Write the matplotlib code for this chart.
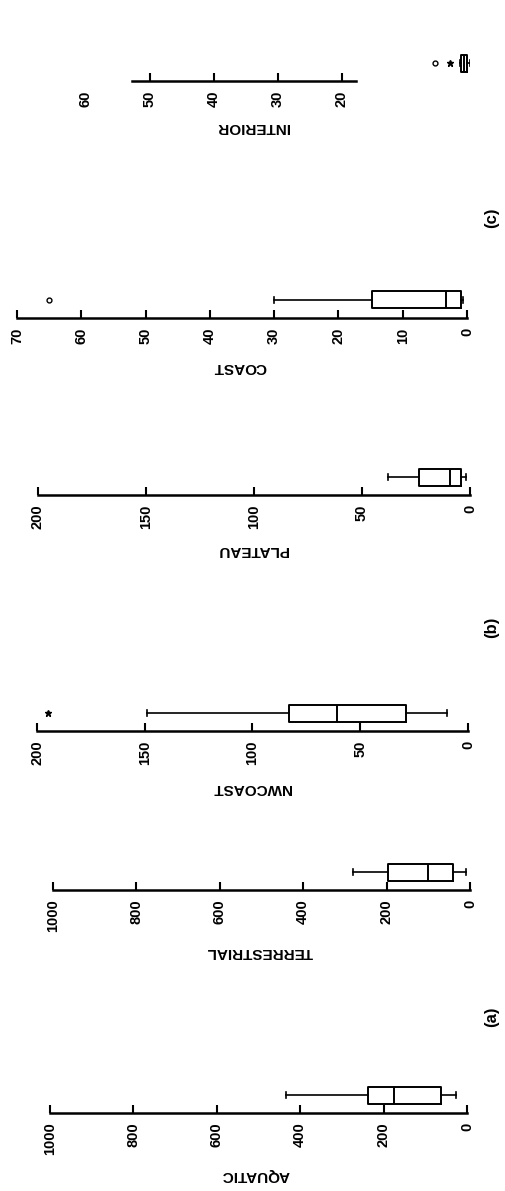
import numpy as np
import matplotlib.pyplot as plt

plt.rcParams['font.family'] = ['Liberation Sans', 'DejaVu Sans']

W, H = 505, 1191

# box plot summaries
labels = ['AQUATIC', 'TERRESTRIAL', 'NWCOAST', 'PLATEAU', 'COAST', 'INTERIOR']
whis_lo = [26, 10, 9.7, 1.9, 0.6, 0.0]
q1 = [62, 41, 29, 4.2, 0.9, 0.5]
med = [175, 101, 61, 9.3, 3.3, 0.9]
q3 = [237, 197, 83, 23.6, 14.8, 1.4]
whis_hi = [434, 281, 149, 38, 30, 1.6]
outliers = [[], [], [], [], [65], [5.5]]
extremes = [[], [], [195], [], [], [3.1]]
axis_max = [1000, 1000, 200, 200, 70, 60]
tick_step = [200, 200, 50, 50, 10, 10]
panel_tags = ['(a)', '(b)', '(c)']

# page layout in pixels: x of axis max, x of zero, y of axis line, label centre
layout = [
    (50, 467, 1113, 255, 1175),
    (53, 470, 890, 260, 952),
    (37, 468, 731, 252, 788),
    (38, 470, 495, 253, 550),
    (17, 467, 318, 240, 367),
    (86, 470, 81, 253, 127),
]
tag_pos = [(492, 1017), (492, 627), (492, 218)]

fig = plt.figure(figsize=(W / 100, H / 100), dpi=100)
AX_H = 45  # px above the axis line

for i, name in enumerate(labels):
    left, right, axis_y, lx, ly = layout[i]
    ax = fig.add_axes([left / W, 1 - axis_y / H, (right - left) / W, AX_H / H])
    ax.set_xlim(axis_max[i], 0)
    ax.set_ylim(0, AX_H)
    ax.patch.set_alpha(0)

    stats = [dict(med=med[i], q1=q1[i], q3=q3[i],
                  whislo=whis_lo[i], whishi=whis_hi[i], fliers=[])]
    ax.bxp(stats, positions=[18], widths=17, capwidths=6,
           orientation='horizontal', showfliers=False, manage_ticks=False,
           boxprops=dict(color='black', linewidth=1.4),
           medianprops=dict(color='black', linewidth=1.4),
           whiskerprops=dict(color='black', linewidth=1.2),
           capprops=dict(color='black', linewidth=1.2))
    if outliers[i]:
        ax.plot(outliers[i], [18] * len(outliers[i]), 'o', mfc='white',
                mec='black', ms=3.5, mew=1, clip_on=False)
    if extremes[i]:
        ax.plot(extremes[i], [18] * len(extremes[i]), '*', color='black',
                ms=5, clip_on=False)

    for s in ['top', 'left', 'right']:
        ax.spines[s].set_visible(False)
    ax.spines['bottom'].set_linewidth(1.8)
    ax.set_yticks([])

    if name == 'INTERIOR':
        ticks = np.arange(20, 61, tick_step[i])
        ax.spines['bottom'].set_bounds(17.8, 52.8)
    else:
        ticks = np.arange(0, axis_max[i] + 1, tick_step[i])
        ax.spines['bottom'].set_bounds(0, axis_max[i])
    ax.set_xticks(ticks)
    ax.set_xticklabels([str(t) for t in ticks], rotation=90,
                       fontsize=10.5, fontweight='bold')
    ax.tick_params(axis='x', direction='in', length=6, width=1.5, pad=7)
    if name == 'INTERIOR':
        ax.xaxis.get_major_ticks()[-1].tick1line.set_visible(False)

    fig.text(lx / W, 1 - ly / H, name, rotation=180, ha='center', va='center',
             fontsize=11, fontweight='bold')

for tag, (tx, ty) in zip(panel_tags, tag_pos):
    fig.text(tx / W, 1 - ty / H, tag, rotation=90, ha='center', va='center',
             fontsize=12, fontweight='bold')

fig.savefig('out.png', dpi=100)
